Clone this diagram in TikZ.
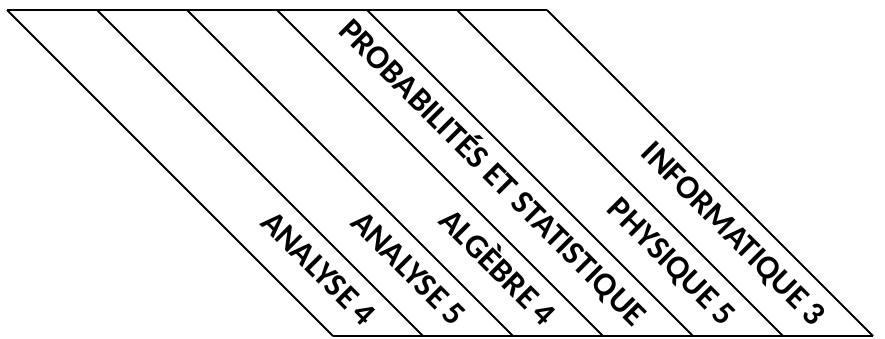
\documentclass[tikz,border=0pt]{standalone}
\usepackage{fontspec}
\setmainfont{Carlito}
\usetikzlibrary{positioning}

\begin{document}
\begin{tikzpicture}[
    x=0.75pt, y=-0.75pt,
    rule/.style={line width=1.9pt},
    slant/.style={line width=1.35pt},
    subject/.style={anchor=base east, rotate=-45, inner sep=0pt, font=\fontsize{25}{25}\selectfont\bfseries}
]
\useasboundingbox (0,0) rectangle (885,339);

% Corners of the columns
\coordinate (t0) at (7,10);   \coordinate (b0) at (333,336);
\coordinate (t1) at (97,10);  \coordinate (b1) at (423,336);
\coordinate (t2) at (187,10); \coordinate (b2) at (513,336);
\coordinate (t3) at (277,10); \coordinate (b3) at (603,336);
\coordinate (t4) at (367,10); \coordinate (b4) at (693,336);
\coordinate (t5) at (457,10); \coordinate (b5) at (783,336);
\coordinate (t6) at (547,10); \coordinate (b6) at (873,336);

% Frame
\draw[rule] (t0) -- (t6);
\draw[rule] (b0) -- (b6);
\draw[slant] (t0) -- (b0);
\draw[slant] (t1) -- (b1);
\draw[slant] (t2) -- (b2);
\draw[slant] (t3) -- (b3);
\draw[slant] (t4) -- (b4);
\draw[slant] (t5) -- (b5);
\draw[slant] (t6) -- (b6);

% Subjects
\node[subject] (analyse4) at (363,328) {ANALYSE 4};
\node[subject] (analyse5) at (453,328) {ANALYSE 5};
\node[subject] (algebre4) at (543,328) {ALGÈBRE 4};
\node[subject] (probastat) at (633,328) {PROBABILITÉS ET STATISTIQUE};
\node[subject] (physique5) at (723,328) {PHYSIQUE 5};
\node[subject] (info3) at (813,328) {INFORMATIQUE 3};

\end{tikzpicture}
\end{document}
